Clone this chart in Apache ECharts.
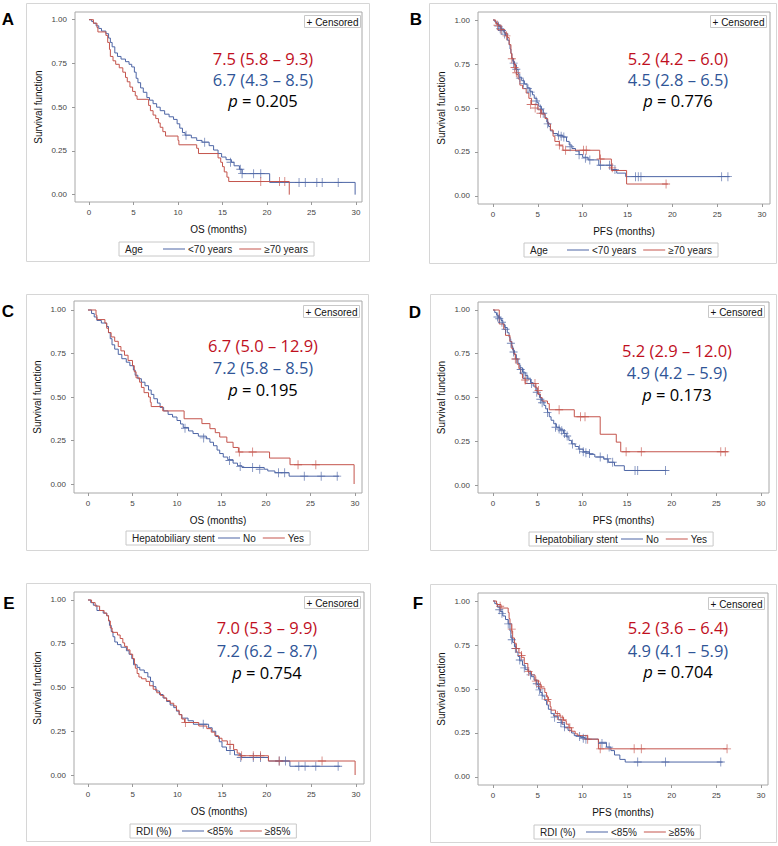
<!DOCTYPE html>
<html>
<head>
<meta charset="utf-8">
<script src="https://cdn.jsdelivr.net/npm/echarts@6/dist/echarts.min.js"></script>
<style>
html,body{margin:0;padding:0;background:#fff;}
#chart{width:778px;height:846px;}
</style>
</head>
<body>
<div id="chart"></div>
<script>
// ---------- tick labels ----------
const xTicks = [0, 5, 10, 15, 20, 25, 30];
const yTicks = [0, 0.25, 0.5, 0.75, 1];

// ---------- texts ----------
const panelLetters = ['A', 'B', 'C', 'D', 'E', 'F'];
const xTitles = ['OS (months)', 'PFS (months)', 'OS (months)', 'PFS (months)', 'OS (months)', 'PFS (months)'];
const groupTitles = ['Age', 'Age', 'Hepatobiliary stent', 'Hepatobiliary stent', 'RDI (%)', 'RDI (%)'];
const groupNames = [
  ['<70 years', '≥70 years'], ['<70 years', '≥70 years'],
  ['No', 'Yes'], ['No', 'Yes'],
  ['<85%', '≥85%'], ['<85%', '≥85%']
];
const medianRed = ['7.5 (5.8 – 9.3)', '5.2 (4.2 – 6.0)', '6.7 (5.0 – 12.9)', '5.2 (2.9 – 12.0)', '7.0 (5.3 – 9.9)', '5.2 (3.6 – 6.4)'];
const medianBlue = ['6.7 (4.3 – 8.5)', '4.5 (2.8 – 6.5)', '7.2 (5.8 – 8.5)', '4.9 (4.2 – 5.9)', '7.2 (6.2 – 8.7)', '4.9 (4.1 – 5.9)'];
const pValues = ['0.205', '0.776', '0.195', '0.173', '0.754', '0.704'];

// ---------- survival data [time (months), survival] ----------
// A: OS by age
const osAgeUnder70 = [[0,1],[0.3,0.99],[0.5,0.98],[0.8,0.965],[1.1,0.95],[1.4,0.935],[1.9,0.92],[2.2,0.895],[2.4,0.87],[2.6,0.845],[2.9,0.81],[3.2,0.79],[3.6,0.775],[4.1,0.76],[4.5,0.745],[4.8,0.73],[5.1,0.70],[5.3,0.665],[5.5,0.64],[5.8,0.61],[6.1,0.585],[6.5,0.555],[6.8,0.54],[7.2,0.52],[7.6,0.50],[8.0,0.48],[8.5,0.46],[9.0,0.445],[9.5,0.43],[9.9,0.405],[10.2,0.38],[10.5,0.355],[10.8,0.34],[11.5,0.325],[12.1,0.31],[12.7,0.30],[13.5,0.28],[14.0,0.255],[14.5,0.235],[14.9,0.215],[15.4,0.20],[16.0,0.185],[16.3,0.165],[16.9,0.145],[17.2,0.12],[20.3,0.07],[29.9,0]];
const osAge70plus = [[0,1],[0.5,0.98],[0.9,0.955],[1.0,0.93],[1.9,0.91],[2.1,0.87],[2.3,0.83],[2.4,0.79],[2.7,0.765],[3.0,0.745],[3.4,0.725],[3.8,0.70],[4.1,0.67],[4.3,0.645],[4.6,0.615],[4.9,0.59],[5.2,0.565],[5.4,0.545],[6.7,0.51],[6.9,0.48],[7.2,0.455],[7.5,0.435],[7.8,0.41],[8.0,0.385],[8.3,0.36],[8.6,0.335],[10.0,0.31],[10.1,0.285],[12.1,0.265],[12.3,0.235],[14.5,0.21],[14.8,0.185],[15.0,0.16],[15.2,0.13],[15.5,0.10],[15.7,0.075],[22.5,0]];
const osAgeUnder70Cens = [[10.9,0.34],[13.0,0.30],[15.9,0.185],[17.0,0.145],[17.2,0.12],[18.5,0.12],[19.3,0.12],[23.6,0.07],[24.3,0.07],[25.6,0.07],[26.2,0.07],[28.0,0.07]];
const osAge70plusCens = [[19.3,0.075],[21.4,0.075],[22.0,0.075]];

// B: PFS by age
const pfsAgeUnder70 = [[0,1],[0.2,0.99],[0.4,0.975],[0.7,0.96],[0.9,0.945],[1.2,0.93],[1.4,0.91],[1.6,0.885],[1.8,0.86],[1.9,0.835],[2.0,0.81],[2.1,0.785],[2.2,0.765],[2.4,0.745],[2.6,0.72],[2.8,0.695],[2.9,0.675],[3.2,0.655],[3.5,0.635],[3.8,0.615],[4.1,0.595],[4.4,0.575],[4.6,0.555],[4.9,0.53],[5.1,0.51],[5.4,0.49],[5.6,0.47],[5.8,0.445],[6.0,0.42],[6.2,0.395],[6.4,0.37],[6.7,0.355],[7.2,0.345],[7.8,0.335],[8.2,0.31],[8.5,0.29],[8.8,0.27],[9.2,0.255],[9.6,0.235],[10.0,0.22],[10.6,0.205],[11.8,0.175],[13.2,0.15],[13.8,0.13],[14.8,0.11],[26.4,0.11]];
const pfsAge70plus = [[0,1],[0.3,0.98],[0.6,0.965],[0.9,0.945],[1.3,0.925],[1.6,0.90],[1.8,0.86],[2.0,0.81],[2.1,0.78],[2.3,0.75],[2.5,0.72],[2.6,0.69],[2.8,0.665],[3.0,0.63],[3.3,0.61],[3.7,0.585],[4.0,0.555],[4.3,0.52],[5.0,0.49],[5.4,0.465],[5.8,0.44],[6.1,0.41],[6.4,0.375],[6.7,0.34],[6.9,0.31],[7.4,0.285],[7.8,0.26],[11.9,0.21],[13.2,0.145],[14.9,0.068],[19.5,0.068]];
const pfsAgeUnder70Cens = [[0.6,0.965],[0.8,0.95],[1.0,0.94],[1.3,0.92],[2.3,0.755],[2.6,0.72],[3.0,0.67],[3.4,0.64],[3.9,0.61],[4.2,0.59],[4.8,0.54],[5.3,0.495],[5.6,0.47],[6.1,0.41],[7.3,0.345],[7.6,0.34],[7.9,0.335],[8.6,0.28],[9.6,0.235],[10.3,0.215],[10.8,0.205],[12.0,0.175],[13.0,0.175],[13.6,0.15],[15.9,0.11],[16.2,0.11],[16.5,0.11],[25.5,0.11],[26.2,0.11]];
const pfsAge70plusCens = [[0.5,0.97],[0.9,0.945],[1.5,0.91],[2.1,0.78],[2.4,0.73],[2.6,0.70],[4.2,0.52],[4.7,0.50],[5.3,0.47],[7.4,0.29],[8.1,0.26],[10.1,0.26],[10.4,0.26],[12.0,0.21],[13.3,0.16],[19.3,0.068]];

// C: OS by hepatobiliary stent
const osStentNo = [[0,1],[0.4,0.98],[0.7,0.96],[1.0,0.94],[1.5,0.925],[2.1,0.905],[2.3,0.87],[2.5,0.835],[2.7,0.80],[3.0,0.775],[3.4,0.745],[3.8,0.72],[4.3,0.70],[4.7,0.68],[5.1,0.655],[5.3,0.625],[5.6,0.605],[6.0,0.585],[6.4,0.565],[6.8,0.54],[7.1,0.515],[7.4,0.49],[7.8,0.465],[8.1,0.44],[8.5,0.42],[9.0,0.40],[9.5,0.385],[10.0,0.365],[10.4,0.345],[10.7,0.325],[11.3,0.305],[11.8,0.29],[12.4,0.275],[13.3,0.26],[13.7,0.24],[14.1,0.22],[14.5,0.195],[14.8,0.175],[15.2,0.155],[15.7,0.14],[16.3,0.12],[16.8,0.105],[17.3,0.095],[19.8,0.085],[20.2,0.075],[21.0,0.065],[22.6,0.045],[28.2,0.045]];
const osStentYes = [[0,1],[0.9,0.97],[1.0,0.945],[1.9,0.925],[2.1,0.895],[2.3,0.87],[2.6,0.845],[3.0,0.82],[3.4,0.79],[3.7,0.765],[4.1,0.74],[4.5,0.71],[5.0,0.68],[5.2,0.645],[5.4,0.61],[5.8,0.585],[6.0,0.555],[6.3,0.525],[6.8,0.50],[7.0,0.47],[7.1,0.445],[8.4,0.42],[10.8,0.375],[12.8,0.347],[13.7,0.318],[14.3,0.295],[14.8,0.27],[15.6,0.24],[16.3,0.21],[16.9,0.184],[20.4,0.149],[22.7,0.111],[29.9,0]];
const osStentNoCens = [[10.9,0.32],[13.0,0.265],[15.9,0.135],[17.1,0.10],[18.5,0.095],[19.3,0.085],[21.4,0.065],[22.1,0.065],[24.3,0.045],[26.2,0.045],[28.0,0.045]];
const osStentYesCens = [[17.0,0.184],[18.5,0.184],[23.6,0.111],[25.6,0.111]];

// D: PFS by hepatobiliary stent
const pfsStentNo = [[0,1],[0.2,0.985],[0.4,0.97],[0.6,0.955],[0.9,0.94],[1.1,0.92],[1.3,0.90],[1.6,0.87],[1.8,0.845],[1.9,0.82],[2.1,0.795],[2.2,0.77],[2.4,0.745],[2.6,0.72],[2.8,0.695],[3.0,0.67],[3.3,0.645],[3.6,0.625],[3.9,0.605],[4.2,0.585],[4.5,0.565],[4.8,0.54],[5.0,0.52],[5.2,0.50],[5.4,0.48],[5.7,0.455],[5.9,0.435],[6.1,0.415],[6.3,0.39],[6.5,0.37],[6.8,0.35],[7.1,0.33],[7.5,0.315],[7.9,0.295],[8.2,0.275],[8.5,0.255],[8.8,0.235],[9.2,0.22],[9.6,0.205],[10.1,0.19],[10.8,0.175],[11.4,0.16],[12.4,0.148],[12.9,0.13],[13.6,0.11],[14.7,0.083],[19.4,0.083]];
const pfsStentYes = [[0,1],[0.7,0.92],[1.2,0.89],[1.4,0.855],[1.9,0.82],[2.1,0.78],[2.3,0.75],[2.5,0.72],[2.7,0.69],[2.9,0.665],[3.1,0.635],[3.3,0.61],[3.6,0.58],[4.8,0.555],[5.0,0.52],[5.3,0.50],[5.5,0.48],[6.1,0.465],[6.3,0.43],[9.1,0.39],[12.0,0.29],[13.8,0.245],[14.3,0.19],[26.3,0.19]];
const pfsStentNoCens = [[0.5,0.96],[0.7,0.95],[1.0,0.93],[1.4,0.89],[2.0,0.81],[2.3,0.76],[2.6,0.72],[3.1,0.66],[3.4,0.64],[3.8,0.61],[4.3,0.58],[4.9,0.53],[5.3,0.49],[5.5,0.47],[6.1,0.415],[7.0,0.33],[7.4,0.32],[7.7,0.31],[8.0,0.295],[8.3,0.28],[8.9,0.235],[9.7,0.205],[10.1,0.19],[10.4,0.185],[10.8,0.18],[12.0,0.16],[12.8,0.15],[13.4,0.13],[15.9,0.083],[16.2,0.083],[19.3,0.083]];
const pfsStentYesCens = [[2.5,0.72],[3.6,0.60],[4.7,0.58],[5.1,0.54],[7.4,0.43],[9.8,0.39],[10.3,0.39],[14.9,0.19],[16.6,0.19],[25.5,0.19],[26.0,0.19]];

// E: OS by RDI
const osRdiUnder85 = [[0,1],[0.3,0.985],[0.6,0.97],[1.0,0.94],[1.7,0.925],[2.1,0.91],[2.3,0.885],[2.4,0.855],[2.6,0.82],[2.8,0.79],[3.0,0.76],[3.3,0.745],[3.7,0.73],[4.3,0.71],[4.6,0.69],[4.9,0.665],[5.1,0.63],[5.5,0.615],[5.8,0.60],[6.3,0.585],[6.7,0.56],[7.0,0.535],[7.3,0.505],[7.6,0.48],[8.0,0.46],[8.4,0.44],[8.8,0.42],[9.2,0.40],[9.6,0.385],[9.9,0.365],[10.2,0.345],[10.5,0.325],[11.2,0.31],[11.8,0.29],[13.5,0.27],[13.9,0.25],[14.3,0.22],[14.7,0.19],[15.0,0.16],[15.5,0.14],[16.4,0.115],[17.2,0.10],[20.2,0.08],[22.6,0.05],[28.2,0.05]];
const osRdi85plus = [[0,1],[0.4,0.985],[0.8,0.965],[1.3,0.94],[1.8,0.925],[2.1,0.91],[2.3,0.88],[2.5,0.84],[2.7,0.815],[3.3,0.80],[3.6,0.78],[3.9,0.755],[4.1,0.735],[4.4,0.715],[4.7,0.69],[5.0,0.665],[5.2,0.635],[5.3,0.61],[5.5,0.58],[5.7,0.56],[6.0,0.55],[6.5,0.535],[6.9,0.51],[7.3,0.49],[7.7,0.47],[8.1,0.455],[8.5,0.44],[8.8,0.425],[9.2,0.41],[9.6,0.395],[9.9,0.37],[10.2,0.345],[10.5,0.32],[10.8,0.30],[12.4,0.28],[13.3,0.265],[13.8,0.245],[14.2,0.225],[14.6,0.21],[15.0,0.195],[15.6,0.175],[16.3,0.145],[16.7,0.125],[17.0,0.11],[20.2,0.08],[29.9,0]];
const osRdiUnder85Cens = [[12.9,0.29],[15.9,0.14],[17.1,0.10],[18.5,0.10],[19.3,0.10],[21.4,0.08],[22.1,0.08],[23.6,0.05],[24.3,0.05],[25.5,0.05],[28.0,0.05]];
const osRdi85plusCens = [[10.9,0.30],[15.9,0.175],[17.2,0.11],[18.5,0.11],[19.3,0.11],[21.4,0.08],[26.2,0.08]];

// F: PFS by RDI
const pfsRdiUnder85 = [[0,1],[0.2,0.985],[0.5,0.965],[0.8,0.94],[1.1,0.915],[1.4,0.895],[1.7,0.87],[1.9,0.83],[2.0,0.79],[2.2,0.765],[2.4,0.74],[2.6,0.71],[2.8,0.685],[3.0,0.66],[3.3,0.635],[3.6,0.61],[4.0,0.59],[4.3,0.57],[4.6,0.55],[4.9,0.525],[5.1,0.50],[5.3,0.48],[5.5,0.46],[5.8,0.435],[6.0,0.41],[6.2,0.385],[6.5,0.36],[6.8,0.345],[7.3,0.325],[7.7,0.30],[8.0,0.28],[8.4,0.265],[8.8,0.25],[9.1,0.235],[9.8,0.225],[10.3,0.215],[11.8,0.197],[12.7,0.17],[13.2,0.15],[13.6,0.125],[14.2,0.10],[14.8,0.085],[25.7,0.085]];
const pfsRdi85plus = [[0,1],[0.4,0.98],[0.9,0.96],[1.7,0.935],[1.8,0.90],[1.9,0.87],[2.1,0.83],[2.2,0.79],[2.4,0.76],[2.6,0.73],[2.9,0.705],[3.2,0.68],[3.5,0.645],[3.9,0.60],[4.3,0.58],[4.7,0.55],[5.1,0.525],[5.4,0.505],[5.8,0.48],[6.0,0.455],[6.2,0.43],[6.4,0.40],[6.5,0.38],[7.0,0.36],[7.5,0.34],[7.9,0.32],[8.2,0.30],[8.5,0.28],[8.8,0.26],[9.2,0.245],[9.5,0.235],[10.6,0.215],[11.8,0.16],[26.2,0.16]];
const pfsRdiUnder85Cens = [[0.7,0.95],[1.0,0.93],[1.7,0.87],[2.1,0.78],[2.5,0.73],[3.0,0.665],[3.5,0.62],[4.2,0.58],[4.9,0.53],[5.2,0.495],[5.5,0.465],[6.9,0.34],[7.6,0.31],[8.0,0.285],[9.7,0.23],[10.1,0.22],[10.4,0.215],[12.2,0.19],[13.0,0.17],[16.2,0.085],[19.3,0.085],[25.5,0.085]];
const pfsRdi85plusCens = [[0.8,0.97],[2.1,0.84],[2.6,0.73],[3.2,0.69],[4.0,0.60],[4.8,0.545],[5.3,0.515],[6.1,0.44],[7.2,0.35],[7.8,0.325],[8.6,0.28],[10.6,0.215],[12.0,0.16],[15.8,0.16],[16.6,0.16],[26.2,0.16]];

const blueCurves = [osAgeUnder70, pfsAgeUnder70, osStentNo, pfsStentNo, osRdiUnder85, pfsRdiUnder85];
const redCurves = [osAge70plus, pfsAge70plus, osStentYes, pfsStentYes, osRdi85plus, pfsRdi85plus];
const blueCens = [osAgeUnder70Cens, pfsAgeUnder70Cens, osStentNoCens, pfsStentNoCens, osRdiUnder85Cens, pfsRdiUnder85Cens];
const redCens = [osAge70plusCens, pfsAge70plusCens, osStentYesCens, pfsStentYesCens, osRdi85plusCens, pfsRdi85plusCens];

// ---------- layout (pixels) ----------
const layout = [
  {grid:[75,12,287,190], xr:[-1.573,30.674], yr:[-0.042,1.044], frame:[26,3,343,258], letter:[8,19], cens:[304,15], med:[263,58,79,100], leg:[119,242,44]},
  {grid:[478,12,292,192], xr:[-1.673,30.892], yr:[-0.0455,1.0455], frame:[429,3,347,260], letter:[416,19], cens:[710,15], med:[678,58,79,100], leg:[524,243,43]},
  {grid:[74,301,288,192], xr:[-1.573,30.787], yr:[-0.0517,1.0517], frame:[26,294,342,256], letter:[8,311], cens:[303,305], med:[263,345,367,389], leg:[126,531,92]},
  {grid:[478,302,291,191], xr:[-1.679,30.896], yr:[-0.0457,1.0457], frame:[430,294,346,256], letter:[415,312], cens:[708,305], med:[677,350,372,394], leg:[529,532,92]},
  {grid:[74,592,290,192], xr:[-1.567,30.896], yr:[-0.0514,1.0457], frame:[26,583,344,258], letter:[9,603], cens:[304,596], med:[267,627,650,672], leg:[130,824,52]},
  {grid:[478,593,290,192], xr:[-1.679,30.784], yr:[-0.0455,1.0455], frame:[430,584,346,258], letter:[418,603], cens:[708,597], med:[678,627,650,671], leg:[534,825,52]}
];

const BLUE = '#4d65a5';
const RED = '#c4544c';
const TXT_BLUE = '#2f5597';
const TXT_RED = '#c00f1e';
const SANS = '"Liberation Sans", Arial, sans-serif';
const MED_FONT = '"Open Sans", "Noto Sans", sans-serif';
const PLUS = 'path://M0,4.5H10V5.5H0Z M4.5,0H5.5V10H4.5Z';

const grids = [], xAxes = [], yAxes = [], series = [], legends = [], graphics = [];

layout.forEach((L, i) => {
  const [gl, gt, gw, gh] = L.grid;
  grids.push({left: gl, top: gt, width: gw, height: gh, show: true, borderColor: '#a8a8a8', borderWidth: 1, backgroundColor: '#fff', containLabel: false});
  xAxes.push({
    type: 'value', gridIndex: i, min: L.xr[0], max: L.xr[1],
    axisLine: {show: false, onZero: false},
    axisTick: {show: true, customValues: xTicks, length: 3, lineStyle: {color: '#999'}},
    axisLabel: {show: true, customValues: xTicks, fontSize: 8, color: '#444', fontFamily: SANS, margin: 6},
    splitLine: {show: false},
    name: xTitles[i], nameLocation: 'middle', nameGap: 22,
    nameTextStyle: {fontSize: 10, color: '#111', fontFamily: SANS}
  });
  yAxes.push({
    type: 'value', gridIndex: i, min: L.yr[0], max: L.yr[1],
    axisLine: {show: false, onZero: false},
    axisTick: {show: true, customValues: yTicks, length: 3, lineStyle: {color: '#999'}},
    axisLabel: {show: true, customValues: yTicks, fontSize: 8, color: '#444', fontFamily: SANS, margin: 8,
      formatter: v => v.toFixed(2)},
    splitLine: {show: false},
    name: 'Survival function', nameLocation: 'middle', nameGap: 32,
    nameTextStyle: {fontSize: 10, color: '#111', fontFamily: SANS}
  });
  const [nb, nr] = groupNames[i];
  series.push({type: 'line', name: nb, xAxisIndex: i, yAxisIndex: i, step: 'end', data: blueCurves[i],
    symbol: 'none', lineStyle: {width: 1, color: BLUE}, itemStyle: {color: BLUE}, animation: false, silent: true});
  series.push({type: 'line', name: nr, xAxisIndex: i, yAxisIndex: i, step: 'end', data: redCurves[i],
    symbol: 'none', lineStyle: {width: 1, color: RED}, itemStyle: {color: RED}, animation: false, silent: true});
  series.push({type: 'scatter', name: nb + ' censored', xAxisIndex: i, yAxisIndex: i, data: blueCens[i],
    symbol: PLUS, symbolSize: [8, 9], itemStyle: {color: BLUE}, animation: false, silent: true, z: 3});
  series.push({type: 'scatter', name: nr + ' censored', xAxisIndex: i, yAxisIndex: i, data: redCens[i],
    symbol: PLUS, symbolSize: [8, 9], itemStyle: {color: RED}, animation: false, silent: true, z: 3});

  // legend
  const [lx, ly, lpad] = L.leg;
  legends.push({
    left: lx, top: ly, orient: 'horizontal', data: [nb, nr], selectedMode: false,
    icon: 'rect', itemWidth: 22, itemHeight: 1, itemGap: 7,
    padding: [2, 6, 2, lpad], borderColor: '#c8c8c8', borderWidth: 1, backgroundColor: '#fff',
    textStyle: {fontSize: 10, color: '#222', fontFamily: SANS, padding: [0, 0, 0, -2]}
  });
  graphics.push({type: 'text', x: lx + 6, y: ly + 7.5, z: 100,
    style: {text: groupTitles[i], fill: '#222', fontSize: 10, fontFamily: SANS, textAlign: 'left', textVerticalAlign: 'middle', align: 'left', verticalAlign: 'middle'}});

  // outer frame
  const [fx, fy, fw, fh] = L.frame;
  graphics.push({type: 'rect', shape: {x: fx + 0.5, y: fy + 0.5, width: fw, height: fh}, z: -10,
    style: {fill: 'none', stroke: '#d6d6d6', lineWidth: 1}});
  // panel letter
  graphics.push({type: 'text', x: L.letter[0], y: L.letter[1],
    style: {text: panelLetters[i], fill: '#000', fontSize: 17, fontWeight: 'bold', fontFamily: SANS, textAlign: 'center', textVerticalAlign: 'middle', align: 'center', verticalAlign: 'middle'}});
  // censored box
  const [cx, cy] = L.cens;
  graphics.push({type: 'rect', shape: {x: cx + 0.5, y: cy + 0.5, width: 56, height: 12}, z: 50,
    style: {fill: '#fff', stroke: '#c8c8c8', lineWidth: 1}});
  graphics.push({type: 'text', x: cx + 28.5, y: cy + 7, z: 51,
    style: {text: '+ Censored', fill: '#111', fontSize: 10, fontFamily: SANS, textAlign: 'center', textVerticalAlign: 'middle', align: 'center', verticalAlign: 'middle'}});
  // medians and p
  const [mx, m1, m2, m3] = L.med;
  graphics.push({type: 'text', x: mx, y: m1, z: 60,
    style: {text: medianRed[i], fill: TXT_RED, fontSize: 16.5, fontFamily: MED_FONT, textAlign: 'center', textVerticalAlign: 'middle', align: 'center', verticalAlign: 'middle'}});
  graphics.push({type: 'text', x: mx, y: m2, z: 60,
    style: {text: medianBlue[i], fill: TXT_BLUE, fontSize: 16.5, fontFamily: MED_FONT, textAlign: 'center', textVerticalAlign: 'middle', align: 'center', verticalAlign: 'middle'}});
  graphics.push({type: 'text', x: mx, y: m3, z: 60,
    style: {text: '{i|p} = ' + pValues[i], fill: '#000', fontSize: 16.5, fontFamily: MED_FONT, textAlign: 'center', textVerticalAlign: 'middle', align: 'center', verticalAlign: 'middle',
      rich: {i: {fontStyle: 'italic', fontSize: 16.5, fontFamily: MED_FONT, fill: '#000'}}}});
});

const chart = echarts.init(document.getElementById('chart'), null, {renderer: 'svg', width: 778, height: 846});
chart.setOption({
  animation: false,
  backgroundColor: '#fff',
  grid: grids,
  xAxis: xAxes,
  yAxis: yAxes,
  legend: legends,
  series: series,
  graphic: graphics
});
</script>
</body>
</html>
